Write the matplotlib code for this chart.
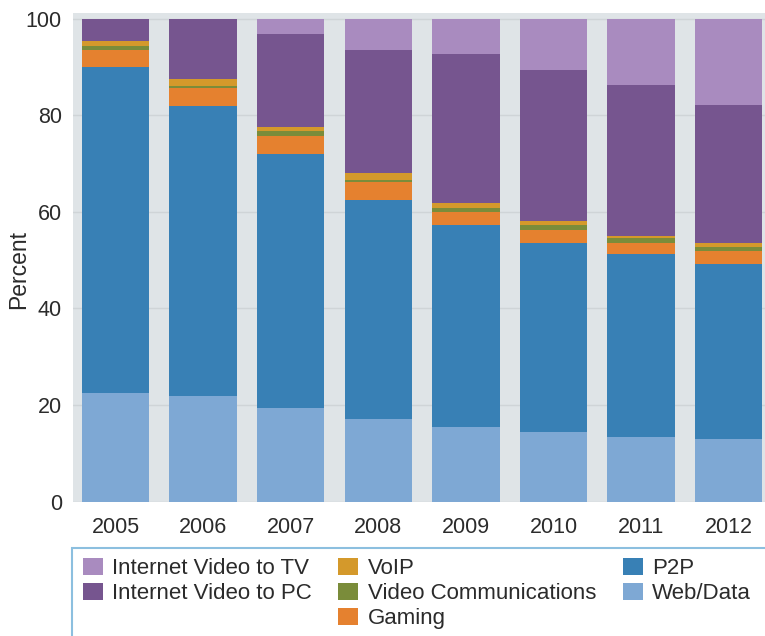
import matplotlib
matplotlib.use("Agg")
import matplotlib.pyplot as plt
from matplotlib.patches import Patch, Rectangle

years = ["2005", "2006", "2007", "2008", "2009", "2010", "2011", "2012"]
web_data = [22.4, 21.9, 19.4, 17.2, 15.5, 14.5, 13.4, 13.0]
p2p = [67.5, 60.1, 52.6, 45.3, 41.8, 39.1, 37.8, 36.3]
gaming = [3.6, 3.7, 3.7, 3.6, 2.7, 2.7, 2.4, 2.6]
video_comm = [0.9, 0.4, 1.1, 0.4, 0.9, 0.9, 1.0, 0.8]
voip = [1.0, 1.5, 0.7, 1.5, 0.9, 1.0, 0.3, 0.9]
video_pc = [4.6, 12.4, 19.3, 25.5, 30.8, 31.2, 31.3, 28.6]
video_tv = [0.0, 0.0, 3.2, 6.5, 7.4, 10.6, 13.8, 17.8]

series = [
    ("Web/Data", web_data, "#7ea8d4"),
    ("P2P", p2p, "#3880b5"),
    ("Gaming", gaming, "#e5812f"),
    ("Video Communications", video_comm, "#7a8c3a"),
    ("VoIP", voip, "#d4992b"),
    ("Internet Video to PC", video_pc, "#76558f"),
    ("Internet Video to TV", video_tv, "#a98bbf"),
]
colors = {name: c for name, _, c in series}

plt.rcParams['font.family'] = ['Liberation Sans', 'DejaVu Sans']
TXT = "#2b2b2b"
FS = 15.5
LFS = 16

fig = plt.figure(figsize=(7.65, 6.36), dpi=100)
ax = fig.add_axes([73/765, 134.3/636, 1 - 73/765, (622.7 - 134.3)/636])
ax.set_facecolor("#dfe4e7")
for s in ax.spines.values():
    s.set_visible(False)

x = list(range(len(years)))
bottom = [0.0] * len(years)
for name, vals, c in series:
    ax.bar(x, vals, bottom=bottom, width=0.77, color=c, zorder=2, linewidth=0)
    bottom = [b + v for b, v in zip(bottom, vals)]

ax.set_xlim(-0.485, 7.415)
ax.set_ylim(0, 101.1)
ax.set_yticks([0, 20, 40, 60, 80, 100])
ax.set_xticks(x)
ax.set_xticklabels(years)
ax.tick_params(axis='both', length=0, labelsize=FS, colors=TXT)
ax.tick_params(axis='y', pad=8)
ax.tick_params(axis='x', pad=11)
ax.yaxis.grid(True, color="#cfd4d7", linewidth=1, zorder=1)
ax.set_axisbelow(True)
ax.set_ylabel("Percent", fontsize=16.5, color=TXT)
ax.yaxis.set_label_coords(-0.062, 0.475)

# legend frame
fig.patches.append(Rectangle((71.5/765, -0.05), 1.0, (636 - 547.5)/636 + 0.05,
                             transform=fig.transFigure, facecolor="white",
                             edgecolor="#8cbfdf", linewidth=1.5, zorder=0))

blank = Patch(facecolor="none", edgecolor="none")
order = ["Internet Video to TV", "Internet Video to PC", None,
         "VoIP", "Video Communications", "Gaming",
         "P2P", "Web/Data", None]
handles = [Patch(facecolor=colors[n], edgecolor="none") if n else blank for n in order]
labels = [n if n else "" for n in order]
fig.legend(handles, labels, loc="upper left", bbox_to_anchor=(82.5/765, 1 - 557.5/636),
           ncol=3, frameon=False, fontsize=LFS, handlelength=0.9, handleheight=0.81,
           handletextpad=0.42, columnspacing=1.2, labelspacing=0.17, borderpad=0,
           borderaxespad=0, labelcolor=TXT)

fig.savefig("out.png", dpi=100)
